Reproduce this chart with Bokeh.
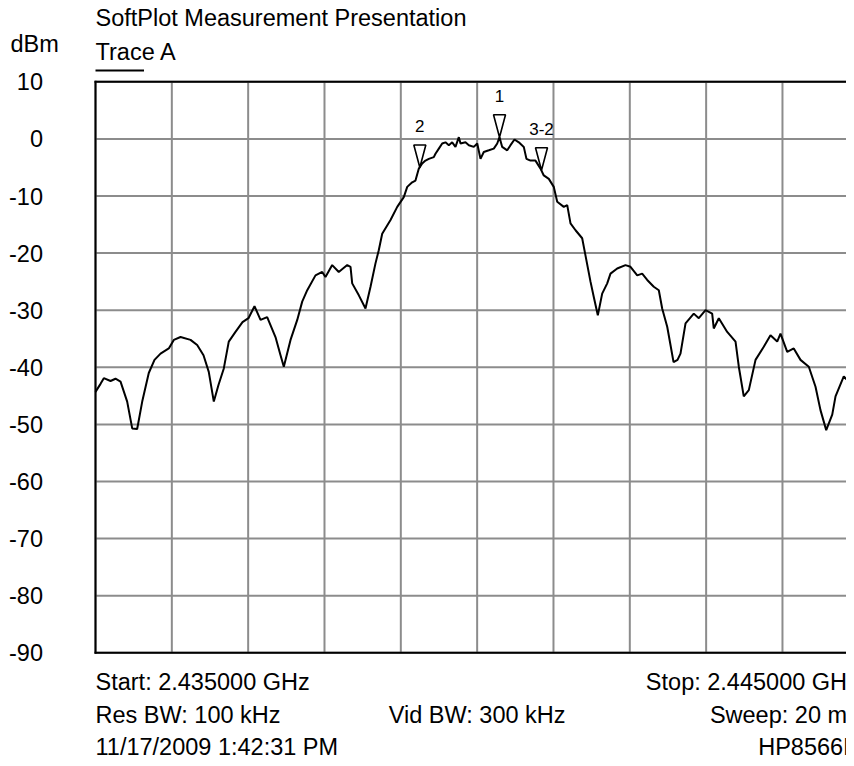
from bokeh.plotting import figure
from bokeh.models import Range1d, Label, ColumnDataSource
from bokeh.embed import file_html
from bokeh.resources import INLINE
from bokeh.core.properties import value

# ---------------- data ----------------
freq_mhz = [
    2435.000, 2435.066, 2435.109, 2435.197, 2435.262, 2435.328, 2435.415, 2435.481, 2435.546, 2435.612,
    2435.698, 2435.773, 2435.852, 2435.960, 2436.026, 2436.114, 2436.245, 2436.332, 2436.415, 2436.484,
    2436.550, 2436.611, 2436.681, 2436.746, 2436.834, 2436.926, 2437.004, 2437.083, 2437.162, 2437.249,
    2437.358, 2437.424, 2437.467, 2437.555, 2437.643, 2437.708, 2437.774, 2437.882, 2437.970, 2438.013,
    2438.101, 2438.187, 2438.298, 2438.341, 2438.363, 2438.450, 2438.537, 2438.603, 2438.668, 2438.711,
    2438.756, 2438.865, 2438.953, 2439.039, 2439.084, 2439.149, 2439.192, 2439.236, 2439.280, 2439.323,
    2439.367, 2439.432, 2439.454, 2439.498, 2439.542, 2439.585, 2439.629, 2439.673, 2439.716, 2439.760,
    2439.782, 2439.847, 2439.891, 2439.956, 2440.001, 2440.044, 2440.087, 2440.153, 2440.218, 2440.263,
    2440.293, 2440.328, 2440.394, 2440.437, 2440.489, 2440.546, 2440.611, 2440.646, 2440.699, 2440.764,
    2440.830, 2440.873, 2440.939, 2441.004, 2441.049, 2441.135, 2441.180, 2441.223, 2441.289, 2441.376,
    2441.419, 2441.485, 2441.528, 2441.581, 2441.638, 2441.704, 2441.747, 2441.835, 2441.943, 2442.009,
    2442.097, 2442.162, 2442.228, 2442.314, 2442.380, 2442.424, 2442.490, 2442.533, 2442.573, 2442.625,
    2442.664, 2442.730, 2442.838, 2442.904, 2442.992, 2443.079, 2443.100, 2443.166, 2443.276, 2443.385,
    2443.428, 2443.493, 2443.559, 2443.647, 2443.755, 2443.843, 2443.931, 2443.974, 2444.062, 2444.148,
    2444.236, 2444.345, 2444.433, 2444.498, 2444.573, 2444.652, 2444.695, 2444.803, 2444.869, 2444.934,
    2444.996,
]
level_dbm = [
    -44.3, -42.9, -41.9, -42.4, -42.0, -42.5, -46.0, -50.7, -50.8, -46.0,
    -41.0, -38.7, -37.6, -36.7, -35.2, -34.7, -35.2, -36.1, -37.9, -40.8,
    -46.0, -43.1, -40.2, -35.5, -33.8, -32.1, -31.4, -29.3, -31.7, -31.2,
    -34.7, -37.9, -39.9, -35.2, -31.7, -28.5, -26.5, -23.9, -23.3, -24.2,
    -22.1, -23.3, -22.1, -22.4, -25.3, -27.4, -29.7, -25.9, -21.8, -19.5,
    -16.6, -14.2, -11.9, -10.2, -8.4, -7.6, -7.3, -5.2, -4.3, -3.8,
    -3.5, -3.2, -2.6, -1.7, -0.8, -0.6, -1.1, -0.6, -1.4, 0.3,
    -0.8, -0.6, -1.1, -1.4, -0.8, -3.5, -2.3, -2.0, -1.7, -0.8,
    0.3, -1.4, -2.0, -1.1, -0.1, -0.6, -1.4, -3.5, -3.8, -3.8,
    -5.2, -6.4, -7.0, -8.4, -11.0, -11.9, -11.6, -14.8, -16.0, -17.4,
    -20.4, -25.0, -27.7, -30.9, -27.1, -25.3, -23.6, -22.7, -22.1, -22.4,
    -23.9, -23.6, -24.7, -25.9, -26.5, -29.7, -32.9, -36.1, -39.1, -38.7,
    -37.6, -32.3, -30.6, -31.4, -30.0, -30.6, -33.2, -31.4, -33.8, -35.5,
    -39.9, -45.1, -44.0, -38.7, -36.4, -34.4, -35.5, -34.1, -37.3, -36.7,
    -38.7, -39.9, -43.4, -47.5, -51.0, -48.3, -45.1, -41.6, -42.5, -42.5,
    -42.7,
]

marker_names = ["1", "2", "3-2"]
marker_freq_mhz = [2440.293, 2439.249, 2440.843]
marker_level_dbm = [0.3, -5.0, -5.5]

x_ticks = [2435, 2436, 2437, 2438, 2439, 2440, 2441, 2442, 2443, 2444, 2445]
y_ticks = [10, 0, -10, -20, -30, -40, -50, -60, -70, -80, -90]
y_tick_labels = ["10", "0", "-10", "-20", "-30", "-40", "-50", "-60", "-70", "-80", "-90"]

title_text = "SoftPlot Measurement Presentation"
unit_text = "dBm"
trace_text = "Trace A"
start_text = "Start: 2.435000 GHz"
stop_text = "Stop: 2.445000 GHz"
res_text = "Res BW: 100 kHz"
vid_text = "Vid BW: 300 kHz"
sweep_text = "Sweep: 20 ms"
date_text = "11/17/2009 1:42:31 PM"
model_text = "HP8566B"

# ---------------- layout ----------------
FONT = "Liberation Sans"
FS = "23.5px"
NARROW = "'Liberation Sans Narrow', 'Liberation Sans', sans-serif"
W, H = 846, 758
GRID_LEFT, GRID_TOP, GRID_BOTTOM = 95, 81.3, 652.3   # canvas pixels of the graticule
GRID_W = 763.3                                        # full 10-division width (runs past the canvas)
LBL_FIX = 8.3                                         # Label baseline correction (px)
x0, x1 = x_ticks[0], x_ticks[-1]
ytop, ybot = y_ticks[0], y_ticks[-1]
px_per_mhz = GRID_W / (x1 - x0)
px_per_db = (GRID_BOTTOM - GRID_TOP) / (ytop - ybot)

x_range = Range1d(x0 - GRID_LEFT / px_per_mhz, x0 + (W - GRID_LEFT) / px_per_mhz)
y_range = Range1d(ybot - (H - GRID_BOTTOM) / px_per_db, ytop + GRID_TOP / px_per_db)

p = figure(width=W, height=H, x_range=x_range, y_range=y_range,
           output_backend="svg", toolbar_location=None,
           x_axis_location=None, y_axis_location=None,
           min_border=0, min_border_left=0, min_border_right=0, min_border_top=0, min_border_bottom=0)
p.outline_line_color = None
p.background_fill_color = "white"
p.border_fill_color = "white"
for g in list(p.grid):
    g.visible = False

GRID = "#8c8c8c"
# graticule
p.segment(x0=x_ticks, y0=[ybot] * len(x_ticks), x1=x_ticks, y1=[ytop] * len(x_ticks),
          line_color=GRID, line_width=2)
p.segment(x0=[x0] * len(y_ticks), y0=y_ticks, x1=[x1] * len(y_ticks), y1=y_ticks,
          line_color=GRID, line_width=2)
# black frame (left, top, bottom)
p.segment(x0=[x0, x0, x0], y0=[ybot, ytop, ybot], x1=[x0, x1, x1], y1=[ytop, ytop, ybot],
          line_color="black", line_width=2, line_cap="square")

# y tick labels
p.text(x=[x0] * len(y_ticks), y=y_ticks, text=y_tick_labels, x_offset=-52.5,
       text_align="right", text_baseline="middle", text_font=value(FONT),
       text_font_size=FS, text_color="black")

# trace
p.line(freq_mhz, level_dbm, line_color="black", line_width=2)

# markers (narrow inverted triangles, apex on the trace)
half_w = 6.0 / px_per_mhz
tri_h = 22.5 / px_per_db
mxs = [[f - half_w, f + half_w, f] for f in marker_freq_mhz]
mys = [[l + tri_h, l + tri_h, l] for l in marker_level_dbm]
p.patches(mxs, mys, fill_color="white", line_color="black", line_width=1.6)
msrc = ColumnDataSource(dict(x=marker_freq_mhz, y=[l + tri_h for l in marker_level_dbm], t=marker_names))
p.text(x="x", y="y", text="t", source=msrc, text_align="center", text_baseline="alphabetic",
       y_offset=-19, text_font=value(NARROW), text_font_size="17px", text_color="black")


def lab(text, x, y, yo, align="left", xo=0):
    p.add_layout(Label(x=x, y=y, x_offset=xo, y_offset=yo + LBL_FIX, text=text, text_align=align,
                       text_baseline="alphabetic", text_font=FONT, text_font_size=FS,
                       text_color="black"))


lab(title_text, x0, ytop, GRID_TOP - 25.7)
lab(unit_text, x0, ytop, GRID_TOP - 51.7, xo=10 - GRID_LEFT)
lab(trace_text, x0, ytop, GRID_TOP - 59.3)
uy = ytop + (GRID_TOP - 70) / px_per_db
p.segment(x0=[x0], y0=[uy], x1=[x0 + 48.5 / px_per_mhz], y1=[uy], line_color="black", line_width=2)

lab(start_text, x0, ybot, GRID_BOTTOM - 689.5)
lab(res_text, x0, ybot, GRID_BOTTOM - 722.5)
lab(date_text, x0, ybot, GRID_BOTTOM - 754.5)
lab(vid_text, (x0 + x1) / 2, ybot, GRID_BOTTOM - 722.5, "center")
lab(stop_text, x1, ybot, GRID_BOTTOM - 689.5, "right")
lab(sweep_text, x1, ybot, GRID_BOTTOM - 722.5, "right")
lab(model_text, x1, ybot, GRID_BOTTOM - 754.5, "right")

open("out.html", "w").write(file_html(p, INLINE))
